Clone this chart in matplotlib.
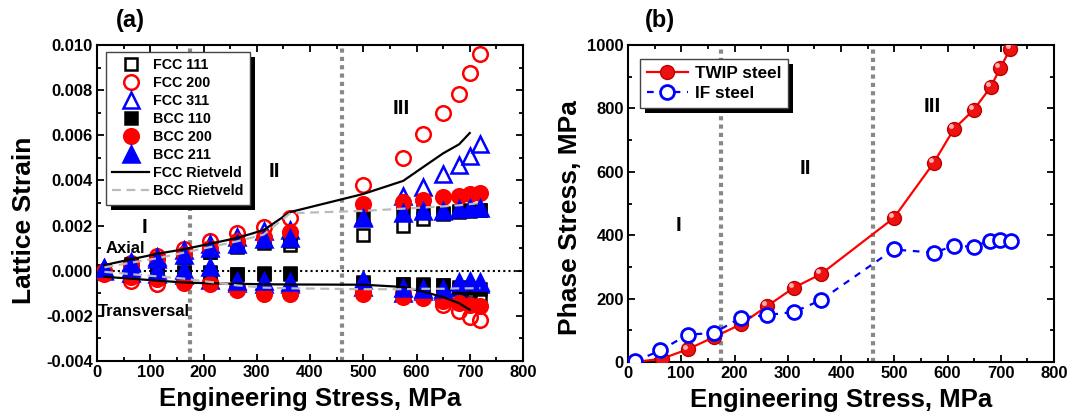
import numpy as np
import matplotlib
matplotlib.use("Agg")
import matplotlib.pyplot as plt
from matplotlib.patches import Rectangle
from matplotlib.ticker import MultipleLocator
import matplotlib.transforms as mtransforms

plt.rcParams['font.family'] = ['Liberation Sans', 'DejaVu Sans']
plt.rcParams['font.weight'] = 'bold'
plt.rcParams['axes.unicode_minus'] = False

# applied stress steps (MPa)
stress = [14, 63, 113, 163, 213, 263, 313, 363, 500, 575, 613, 650, 680, 700, 720]

# lattice strain, units of 1e-3, axial
ax_fcc111 = [0.0, 0.2, 0.4, 0.6, 0.85, 1.05, 1.25, 1.15, 1.6, 1.97, 2.27, 2.5, 2.6, 2.65, 2.7]
ax_fcc200 = [0.0, 0.35, 0.65, 0.95, 1.3, 1.65, 1.95, 2.35, 3.8, 5.0, 6.05, 7.0, 7.85, 8.75, 9.6]
ax_fcc311 = [0.05, 0.4, 0.6, 0.9, 1.2, 1.5, 1.75, 1.8, 2.4, 3.3, 3.7, 4.3, 4.7, 5.1, 5.6]
ax_bcc110 = [0.0, 0.3, 0.45, 0.6, 0.85, 1.1, 1.3, 1.3, 2.4, 2.6, 2.65, 2.55, 2.65, 2.7, 2.7]
ax_bcc200 = [0.0, 0.2, 0.5, 0.75, 1.0, 1.3, 1.5, 1.7, 2.95, 3.05, 3.15, 3.25, 3.3, 3.4, 3.45]
ax_bcc211 = [0.1, 0.35, 0.5, 0.7, 1.0, 1.2, 1.4, 1.45, 2.35, 2.55, 2.65, 2.65, 2.75, 2.8, 2.8]

# transverse
tr_fcc111 = [-0.05, -0.1, -0.1, -0.1, -0.1, -0.15, -0.15, -0.15, -0.5, -0.6, -0.6, -0.65, -0.8, -0.9, -1.1]
tr_fcc200 = [-0.1, -0.45, -0.6, -0.4, -0.5, -0.7, -0.9, -1.0, -0.9, -1.0, -1.1, -1.5, -1.8, -2.05, -2.2]
tr_fcc311 = [0.0, -0.1, -0.15, -0.2, -0.4, -0.55, -0.6, -0.6, -0.7, -1.0, -0.9, -0.9, -0.7, -0.6, -0.6]
tr_bcc110 = [0.0, 0.0, 0.0, -0.05, -0.05, -0.15, -0.1, -0.1, -0.55, -0.6, -0.62, -0.65, -0.7, -0.75, -0.8]
tr_bcc200 = [-0.15, -0.3, -0.35, -0.55, -0.6, -0.85, -1.05, -1.05, -1.05, -1.15, -1.2, -1.35, -1.45, -1.5, -1.55]
tr_bcc211 = [0.1, 0.1, 0.05, 0.05, 0.15, -0.45, -0.45, -0.5, -0.4, -0.75, -0.8, -0.8, -0.5, -0.45, -0.5]

# Rietveld fits
riet_fcc_x = [14, 63, 113, 163, 213, 263, 313, 363, 500, 575, 613, 650, 680, 700]
riet_fcc_ax = [0.25, 0.5, 0.75, 0.95, 1.2, 1.45, 1.8, 2.6, 3.4, 3.98, 4.6, 5.2, 5.6, 6.1]
riet_fcc_tr = [-0.27, -0.35, -0.44, -0.52, -0.56, -0.58, -0.6, -0.61, -0.62, -0.72, -0.93, -1.17, -1.44, -1.73]
riet_bcc_x = [14, 63, 113, 163, 213, 263, 313, 363, 500, 575, 613, 650, 680, 700, 720]
riet_bcc_ax = [0.15, 0.35, 0.55, 0.8, 1.05, 1.3, 1.6, 2.55, 2.65, 2.75, 2.8, 2.85, 2.9, 2.95, 3.0]
riet_bcc_tr = [-0.05, -0.15, -0.25, -0.35, -0.5, -0.65, -0.75, -0.78, -0.82, -0.82, -0.8, -0.8, -0.78, -0.78, -0.77]

# phase stresses (MPa)
twip_x = [12, 63, 112, 162, 212, 261, 312, 362, 499, 574, 612, 649, 681, 699, 718]
twip_y = [0, 10, 40, 79, 119, 176, 235, 277, 454, 628, 735, 795, 867, 927, 988]
if_x = [14, 61, 112, 162, 212, 261, 312, 362, 499, 574, 612, 649, 680, 699, 719]
if_y = [2, 37, 86, 92, 140, 148, 158, 195, 355, 345, 366, 364, 383, 385, 383]

boundaries = [175, 460]

fig = plt.figure(figsize=(10.79, 4.16), dpi=100)
axa = fig.add_axes([97/1079, 55/416, 426/1079, 316/416])
axb = fig.add_axes([628/1079, 54/416, 426/1079, 317/416])


def style_axes(ax):
    for s in ax.spines.values():
        s.set_linewidth(1.5)
    ax.tick_params(which='both', direction='in', top=True, right=True, width=1.3)
    ax.tick_params(which='major', length=5, labelsize=12, pad=3)
    ax.tick_params(which='minor', length=3)
    ax.set_xlim(0, 800)
    ax.xaxis.set_major_locator(MultipleLocator(100))
    ax.xaxis.set_minor_locator(MultipleLocator(50))
    ax.set_xlabel('Engineering Stress, MPa', fontsize=18.5, fontweight='bold')
    ax.xaxis.set_label_coords(0.5, -0.082)
    for b in boundaries:
        ax.axvline(b, color='#888888', ls=(0, (1, 1)), lw=3, zorder=1)


style_axes(axa)
style_axes(axb)

# ---- (a) lattice strain
sa = np.array(stress)
series = [
    (ax_fcc111, tr_fcc111, 's', 'k', False, 8, 'FCC 111'),
    (ax_fcc200, tr_fcc200, 'o', 'r', False, 10.5, 'FCC 200'),
    (ax_fcc311, tr_fcc311, '^', 'b', False, 11, 'FCC 311'),
    (ax_bcc110, tr_bcc110, 's', 'k', True, 8, 'BCC 110'),
    (ax_bcc200, tr_bcc200, 'o', 'r', True, 10.5, 'BCC 200'),
    (ax_bcc211, tr_bcc211, '^', 'b', True, 11, 'BCC 211'),
]
for axial, trans, mk, col, filled, ms, lab in series:
    kw = dict(ls='none', marker=mk, ms=ms, mec=col, mew=1.8,
              mfc=col if filled else 'none', zorder=3)
    axa.plot(sa, np.array(axial) * 1e-3, label=lab, **kw)
    axa.plot(sa, np.array(trans) * 1e-3, **kw)

axa.plot(riet_fcc_x, np.array(riet_fcc_ax) * 1e-3, color='k', lw=1.6, zorder=4, label='FCC Rietveld')
axa.plot(riet_fcc_x, np.array(riet_fcc_tr) * 1e-3, color='k', lw=1.6, zorder=4)
axa.plot(riet_bcc_x, np.array(riet_bcc_ax) * 1e-3, color='#bbbbbb', ls=(0, (4, 2.5)), lw=1.6, zorder=4,
         label='BCC Rietveld')
axa.plot(riet_bcc_x, np.array(riet_bcc_tr) * 1e-3, color='#bbbbbb', ls=(0, (4, 2.5)), lw=1.6, zorder=4)
axa.axhline(0, color='k', ls=(0, (1, 1.5)), lw=1.5, zorder=2)

axa.set_ylim(-0.004, 0.010)
axa.yaxis.set_major_locator(MultipleLocator(0.002))
axa.yaxis.set_minor_locator(MultipleLocator(0.001))
axa.yaxis.set_major_formatter(matplotlib.ticker.FormatStrFormatter('%.3f'))
axa.set_ylabel('Lattice Strain', fontsize=19, fontweight='bold')
axa.yaxis.set_label_coords(-0.143, 0.446)

axa.text(90, 0.0019, 'I', fontsize=15, ha='center', va='center')
axa.text(334, 0.0044, 'II', fontsize=15, ha='center', va='center')
axa.text(571, 0.0072, 'III', fontsize=15, ha='center', va='center')
axa.text(54, 0.0010, 'Axial', fontsize=12, ha='center', va='center')
axa.text(88, -0.00182, 'Transversal', fontsize=12, ha='center', va='center')

leg_a = axa.legend(loc='upper left', bbox_to_anchor=(0.02, 0.978), borderaxespad=0,
                   fontsize=10.3, fancybox=False, edgecolor='#444444', framealpha=1,
                   handlelength=2.6, labelspacing=0.28, handletextpad=0.3,
                   borderpad=0.45, numpoints=1)
leg_a.get_frame().set_linewidth(1.0)
leg_a.set_zorder(10)

# ---- (b) phase stress
axb.plot(twip_x, twip_y, color='r', lw=1.6, marker='o', ms=10, mfc='#ee1111', mec='#bb0000',
         mew=1.0, zorder=3, label='TWIP steel')
glint = axb.transData + mtransforms.ScaledTranslation(-2/72, 2/72, fig.dpi_scale_trans)
axb.plot(twip_x, twip_y, ls='none', marker='o', ms=3.5, mfc='#ffb0b0', mec='none',
         transform=glint, zorder=3.5)
axb.plot(if_x, if_y, color='b', lw=1.6, ls=(0, (3, 3)), marker='o', ms=10, mfc='white', mec='b',
         mew=2.0, zorder=4, label='IF steel')

axb.set_ylim(0, 1000)
axb.yaxis.set_major_locator(MultipleLocator(200))
axb.yaxis.set_minor_locator(MultipleLocator(100))
axb.set_ylabel('Phase Stress, MPa', fontsize=19, fontweight='bold')
axb.yaxis.set_label_coords(-0.108, 0.457)

axb.text(95, 430, 'I', fontsize=15, ha='center', va='center')
axb.text(334, 610, 'II', fontsize=15, ha='center', va='center')
axb.text(571, 807, 'III', fontsize=15, ha='center', va='center')

leg_b = axb.legend(loc='upper left', bbox_to_anchor=(0.028, 0.956), borderaxespad=0,
                   fontsize=12.3, fancybox=False, edgecolor='#444444', framealpha=1,
                   handlelength=2.4, labelspacing=0.3, handletextpad=0.4, borderpad=0.4,
                   numpoints=1)
leg_b.get_frame().set_linewidth(1.0)
leg_b.set_zorder(10)

fig.text(130/1079, 1 - 20/416, '(a)', fontsize=17, ha='center', va='center')
fig.text(660/1079, 1 - 20/416, '(b)', fontsize=17, ha='center', va='center')

# solid drop shadows just under the legend boxes
fig.canvas.draw()
inv = fig.transFigure.inverted()
for ax, leg in ((axa, leg_a), (axb, leg_b)):
    bb = leg.get_window_extent().transformed(inv)
    dx, dy = 5 / 1079, 5 / 416
    ax.add_patch(Rectangle((bb.x0 + dx, bb.y0 - dy), bb.width, bb.height,
                           transform=fig.transFigure, facecolor='k', edgecolor='none',
                           zorder=9, clip_on=False))

fig.savefig('out.png', dpi=100)
